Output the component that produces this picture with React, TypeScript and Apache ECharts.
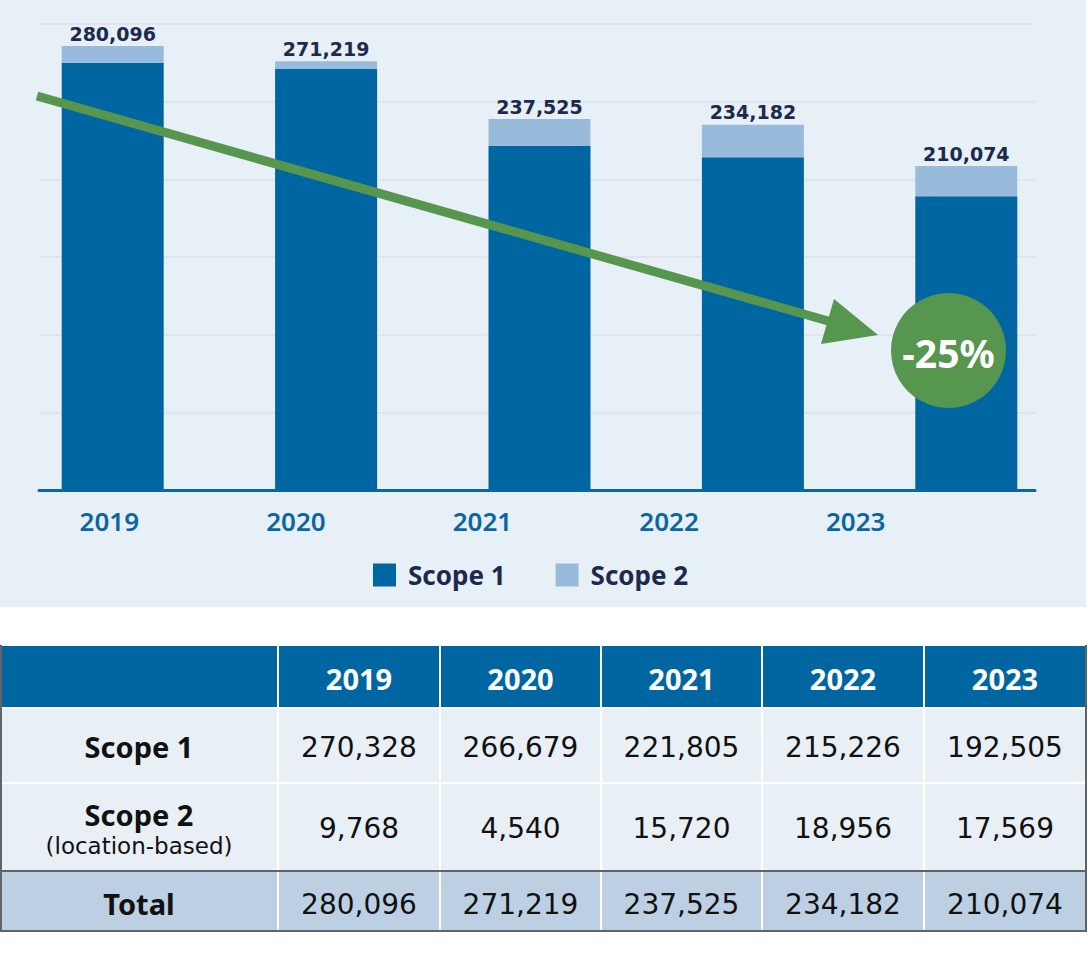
import React, { useEffect, useRef } from 'react';
import * as echarts from 'echarts';

const years = ['2019', '2020', '2021', '2022', '2023'];
const scope1 = [270328, 266679, 221805, 215226, 192505];
const scope2 = [9768, 4540, 15720, 18956, 17569];
const totals = [280096, 271219, 237525, 234182, 210074];
const seriesNames = ['Scope 1', 'Scope 2'];
const rowLabels = ['Scope 1', 'Scope 2', 'Total'];
const scope2Note = '(location-based)';
const changeLabel = '-25%';

const fmt = (v: number) => v.toLocaleString('en-US');

const DARK = '#0066a1';
const LIGHT = '#98bbdc';
const GREEN = '#57964f';
const NAVY = '#1c2b4c';
const BOLD_FONT = 'Noto Sans';
const NUM_FONT = 'DejaVu Sans';

function buildTable(): any[] {
  const colX = [0, 278, 440, 601, 762, 924, 1086];
  const rowY = [645, 708, 783, 871, 931];
  const els: any[] = [];
  const rowFill = ['#0066a1', '#e8f0f6', '#e8f0f6', '#bccfe3'];
  for (let r = 0; r < 4; r++) {
    for (let c = 0; c < 6; c++) {
      els.push({
        type: 'rect',
        z: 1,
        shape: { x: colX[c] + 1, y: rowY[r] + 1, width: colX[c + 1] - colX[c] - 2, height: rowY[r + 1] - rowY[r] - 2 },
        style: { fill: rowFill[r] },
      });
    }
  }
  const txt = (text: string, x: number, y: number, size: number, weight: string, fill: string, family: string) => ({
    type: 'text',
    z: 3,
    x,
    y,
    style: {
      text,
      fill,
      fontSize: size,
      fontWeight: weight,
      fontFamily: family,
      align: 'center',
      verticalAlign: 'middle',
      textAlign: 'center',
      textVerticalAlign: 'middle',
    },
  });
  const cx = (c: number) => (colX[c] + colX[c + 1]) / 2;
  years.forEach((y, i) => els.push(txt(y, cx(i + 1), 678, 29, 'bold', '#ffffff', BOLD_FONT)));
  els.push(txt(rowLabels[0], cx(0), 746, 29, 'bold', '#111111', BOLD_FONT));
  els.push(txt(rowLabels[1], cx(0), 814, 29, 'bold', '#111111', BOLD_FONT));
  els.push(txt(scope2Note, cx(0), 846, 23, 'normal', '#111111', NUM_FONT));
  els.push(txt(rowLabels[2], cx(0), 903, 29, 'bold', '#111111', BOLD_FONT));
  years.forEach((_, i) => {
    els.push(txt(fmt(scope1[i]), cx(i + 1), 747, 28, 'normal', '#111111', NUM_FONT));
    els.push(txt(fmt(scope2[i]), cx(i + 1), 828, 28, 'normal', '#111111', NUM_FONT));
    els.push(txt(fmt(totals[i]), cx(i + 1), 904, 28, 'normal', '#111111', NUM_FONT));
  });
  const border = '#5f6468';
  els.push({ type: 'line', z: 4, shape: { x1: 1, y1: 645, x2: 1, y2: 931 }, style: { stroke: border, lineWidth: 2 } });
  els.push({ type: 'line', z: 4, shape: { x1: 1086, y1: 645, x2: 1086, y2: 931 }, style: { stroke: border, lineWidth: 2 } });
  els.push({ type: 'line', z: 4, shape: { x1: 0, y1: 931, x2: 1087, y2: 931 }, style: { stroke: border, lineWidth: 2 } });
  els.push({ type: 'line', z: 4, shape: { x1: 0, y1: 871, x2: 1087, y2: 871 }, style: { stroke: border, lineWidth: 2 } });
  return els;
}

export default function App() {
  const ref = useRef<HTMLDivElement>(null);
  useEffect(() => {
    document.body.style.margin = '0';
    if (!ref.current) return;
    const chart = echarts.init(ref.current, undefined, { renderer: 'svg' });
    const option: any = {
      animation: false,
      backgroundColor: '#ffffff',
      grid: [
        { left: 39, top: 24, width: 996, height: 466 },
        { left: 6, top: 24, width: 1067, height: 466 },
        { left: 16, top: 24, width: 933, height: 466 },
      ],
      xAxis: [
        {
          gridIndex: 0, type: 'category', data: years, z: 5,
          axisLine: { show: true, lineStyle: { color: '#0b66a1', width: 3 } },
          axisTick: { show: false }, axisLabel: { show: false }, splitLine: { show: false },
        },
        {
          gridIndex: 1, type: 'category', data: years,
          axisLine: { show: false }, axisTick: { show: false }, axisLabel: { show: false },
        },
        {
          gridIndex: 2, type: 'category', data: years,
          axisLine: { show: false }, axisTick: { show: false },
          axisLabel: { show: true, color: '#0b66a1', fontSize: 26, fontWeight: 600, fontFamily: BOLD_FONT, margin: 18 },
        },
      ],
      yAxis: [
        {
          gridIndex: 0, type: 'value', min: 0, max: 300000, interval: 50000,
          axisLabel: { show: false }, axisLine: { show: false }, axisTick: { show: false },
          splitLine: { show: true, lineStyle: { color: '#dbe2ea', width: 1.5 } },
        },
        { gridIndex: 1, type: 'value', min: 21000, max: 293000, show: false, splitLine: { show: false } },
        { gridIndex: 2, type: 'value', min: 0, max: 1, show: false, splitLine: { show: false } },
      ],
      legend: {
        data: seriesNames,
        left: 368,
        top: 557,
        icon: 'rect',
        itemWidth: 23,
        itemHeight: 23,
        itemGap: 50,
        textStyle: { fontSize: 26, fontWeight: 'bold', color: NAVY, fontFamily: BOLD_FONT, padding: [0, 0, 0, 7] },
      },
      series: [
        {
          name: seriesNames[0], type: 'bar', stack: 'total', xAxisIndex: 1, yAxisIndex: 1,
          barWidth: 102, data: scope1, itemStyle: { color: DARK },
        },
        {
          name: seriesNames[1], type: 'bar', stack: 'total', xAxisIndex: 1, yAxisIndex: 1,
          barWidth: 102, data: scope2, itemStyle: { color: LIGHT },
          label: {
            show: true, position: 'top', distance: 3,
            formatter: (p: any) => fmt(scope1[p.dataIndex] + scope2[p.dataIndex]),
            fontSize: 19, color: NAVY, fontFamily: NUM_FONT, fontWeight: 'bold',
          },
        },
      ],
      graphic: [
        { type: 'rect', z: -10, shape: { x: 0, y: 0, width: 1086, height: 607 }, style: { fill: '#e7eff7' } },
        { type: 'line', z: 10, shape: { x1: 37, y1: 96, x2: 830, y2: 321.5 }, style: { stroke: GREEN, lineWidth: 9 } },
        { type: 'polygon', z: 10, shape: { points: [[821, 344], [834, 299], [878, 335]] }, style: { fill: GREEN } },
        { type: 'circle', z: 10, shape: { cx: 948.5, cy: 350.5, r: 57.5 }, style: { fill: GREEN } },
        {
          type: 'text', z: 11, x: 948.5, y: 352,
          style: {
            text: changeLabel, fill: '#ffffff', fontSize: 39, fontWeight: 'bold', fontFamily: BOLD_FONT,
            align: 'center', verticalAlign: 'middle', textAlign: 'center', textVerticalAlign: 'middle',
          },
        },
        ...buildTable(),
      ],
    };
    chart.setOption(option);
    return () => chart.dispose();
  }, []);
  return <div ref={ref} style={{ width: 1088, height: 964 }} />;
}
